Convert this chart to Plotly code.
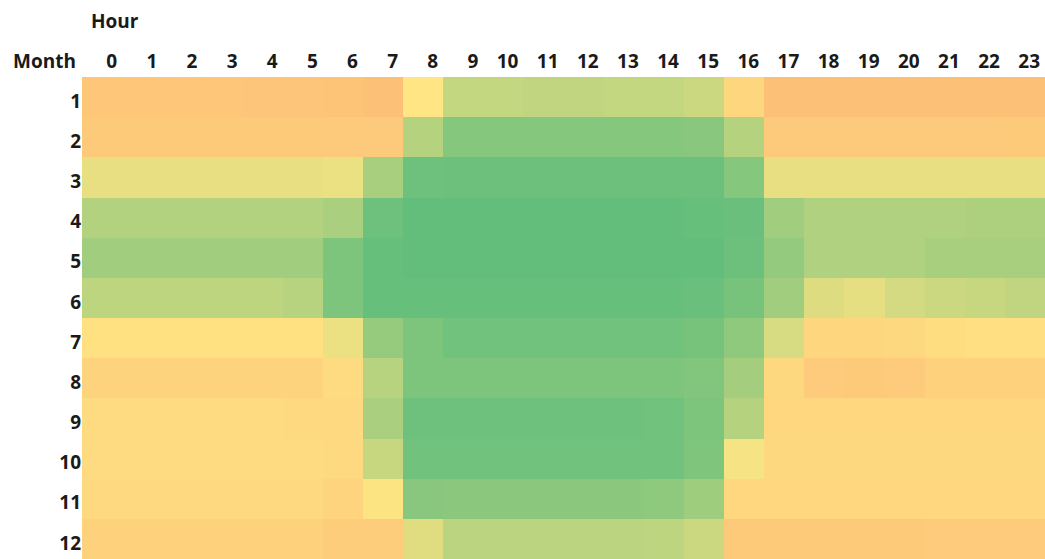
import plotly.graph_objects as go

hours = list(range(24))
months = list(range(1, 13))

# Estimated relative values per month (rows) and hour (columns)
m1 = [10, 10, 10, 10, 9, 9, 8, 5, 45, 66, 66, 67, 67, 66, 66, 63, 28, 3, 3, 3, 4, 4, 4, 4]
m2 = [15, 15, 15, 15, 15, 15, 14, 14, 71, 88, 88, 88, 88, 88, 88, 87, 71, 14, 14, 14, 14, 14, 14, 15]
m3 = [53, 53, 53, 53, 53, 53, 52, 76, 96, 97, 97, 97, 97, 97, 97, 97, 88, 53, 53, 53, 53, 53, 53, 53]
m4 = [72, 72, 72, 72, 72, 72, 75, 96, 100, 100, 100, 100, 100, 100, 100, 99, 98, 78, 73, 73, 73, 73, 74, 74]
m5 = [78, 78, 78, 78, 78, 78, 91, 99, 100, 100, 100, 100, 100, 100, 100, 100, 97, 83, 73, 73, 73, 76, 76, 76]
m6 = [68, 68, 68, 68, 68, 70, 91, 99, 99, 99, 99, 99, 99, 99, 99, 98, 93, 78, 57, 54, 60, 63, 65, 67]
m7 = [40, 40, 40, 40, 40, 40, 52, 82, 91, 95, 95, 95, 95, 95, 95, 93, 85, 59, 28, 28, 30, 36, 38, 38]
m8 = [25, 25, 25, 25, 25, 25, 33, 70, 91, 91, 91, 91, 91, 91, 91, 89, 77, 30, 16, 15, 16, 24, 24, 24]
m9 = [33, 33, 33, 33, 33, 32, 32, 75, 96, 96, 96, 96, 96, 96, 95, 91, 71, 29, 29, 29, 29, 29, 29, 29]
m10 = [33, 33, 33, 33, 33, 33, 32, 65, 95, 95, 95, 95, 95, 95, 95, 90, 48, 30, 30, 30, 30, 30, 30, 30]
m11 = [32, 32, 32, 32, 32, 31, 27, 46, 87, 86, 86, 86, 86, 86, 85, 79, 29, 29, 29, 29, 29, 29, 29, 29]
m12 = [24, 24, 24, 24, 24, 23, 18, 18, 56, 69, 69, 69, 69, 69, 68, 63, 15, 15, 15, 15, 15, 16, 16, 16]

z = [m1, m2, m3, m4, m5, m6, m7, m8, m9, m10, m11, m12]

colorscale = [
    [0.0, "#FCBD76"],
    [0.45, "#FFE583"],
    [1.0, "#63BE7B"],
]

fig = go.Figure(go.Heatmap(
    z=z, x=hours, y=months,
    colorscale=colorscale, zmin=0, zmax=100,
    showscale=False, xgap=0, ygap=0, hoverongaps=False,
))

font = dict(family="Open Sans", size=19, color="#1a1a1a")

W, H = 1045, 559
L, T = 82, 77
plot_w = W - L
plot_h = H - T

# hour labels are right-aligned inside their header cells (spreadsheet style)
fig.update_layout(
    width=W, height=H,
    margin=dict(l=L, r=0, t=T, b=0, autoexpand=False),
    paper_bgcolor="white", plot_bgcolor="white",
    font=font,
    xaxis=dict(side="top", tickmode="array",
               tickvals=[h + 0.5 for h in hours],
               ticktext=[f"<b>{h}</b>" for h in hours],
               ticklabelposition="outside left", ticklabelshift=-5,
               range=[-0.5, 23.5],
               showgrid=False, zeroline=False, showline=False,
               ticks="", tickfont=font, automargin=False,
               ticklabelstandoff=4),
    yaxis=dict(autorange="reversed", tickmode="array", tickvals=months,
               ticktext=[f"<b>{m}</b>" for m in months],
               showgrid=False, zeroline=False, showline=False,
               ticks="", tickfont=font, automargin=False,
               ticklabelshift=-4),
)

fig.add_annotation(text="<b>Hour</b>", xref="paper", yref="paper",
                   x=(89 - L) / plot_w, y=1 + (T - 21) / plot_h,
                   xanchor="left", yanchor="middle", showarrow=False, font=font)
fig.add_annotation(text="<b>Month</b>", xref="paper", yref="paper",
                   x=(78 - L) / plot_w, y=1 + (T - 61) / plot_h,
                   xanchor="right", yanchor="middle", showarrow=False, font=font)

fig.write_html(
    "out.html",
    config={"displayModeBar": False},
    post_script="document.body.style.margin='0';document.body.style.overflow='hidden';",
)
